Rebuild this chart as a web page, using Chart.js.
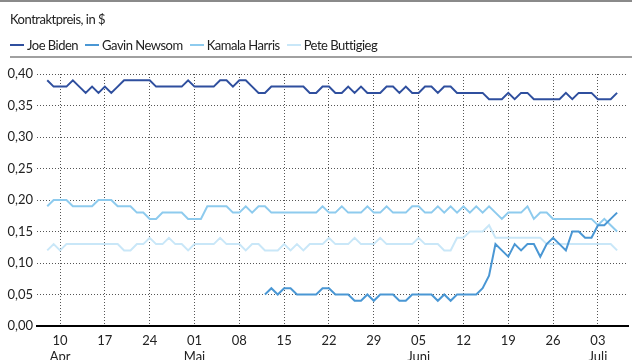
<!DOCTYPE html>
<html>
<head>
<meta charset="utf-8">
<script src="https://cdn.jsdelivr.net/npm/chart.js@4.4.1/dist/chart.umd.min.js"></script>
<style>
html, body { margin: 0; padding: 0; background: #fff; overflow: hidden; }
body { width: 640px; height: 360px; position: relative; font-family: Lato, "Liberation Sans", sans-serif; color: #222; }
#topRule { position: absolute; left: 0; top: 0; width: 632px; height: 2px; background: #8a8a8a; }
#title { position: absolute; left: 10px; top: 11px; font-size: 13px; letter-spacing: -0.5px; }
#legend { position: absolute; left: 10px; top: 37px; font-size: 13px; letter-spacing: -0.5px; display: flex; }
.item { display: flex; align-items: center; margin-right: 7px; }
.swatch { width: 14px; height: 2px; margin-right: 3px; }
#legendRule { position: absolute; left: 10px; top: 56px; width: 622px; height: 2px; background: #a0a0a0; }
#wrap { position: absolute; left: 0; top: 0; width: 640px; height: 372px; }
</style>
</head>
<body>
<div id="wrap"><canvas id="priceChart"></canvas></div>
<div id="topRule"></div>
<div id="title">Kontraktpreis, in $</div>
<div id="legend"></div>
<div id="legendRule"></div>
<script>
// daily values, 08 Apr to 06 Jul (index = day)
const seriesNames = ["Joe Biden", "Gavin Newsom", "Kamala Harris", "Pete Buttigieg"];
const seriesColors = ["#2f4f9e", "#4a97d4", "#8ecbee", "#c9e7f8"];

const biden = [
    0.39, 0.38, 0.38, 0.38, 0.39, 0.38, 0.37, 0.38, 0.37, 0.38,
    0.37, 0.38, 0.39, 0.39, 0.39, 0.39, 0.39, 0.38, 0.38, 0.38,
    0.38, 0.38, 0.39, 0.38, 0.38, 0.38, 0.38, 0.39, 0.39, 0.38,
    0.39, 0.39, 0.38, 0.37, 0.37, 0.38, 0.38, 0.38, 0.38, 0.38,
    0.38, 0.37, 0.37, 0.38, 0.38, 0.37, 0.37, 0.38, 0.37, 0.38,
    0.37, 0.37, 0.37, 0.38, 0.38, 0.37, 0.38, 0.37, 0.37, 0.38,
    0.38, 0.37, 0.38, 0.38, 0.37, 0.37, 0.37, 0.37, 0.37, 0.36,
    0.36, 0.36, 0.37, 0.36, 0.37, 0.37, 0.36, 0.36, 0.36, 0.36,
    0.36, 0.37, 0.36, 0.37, 0.37, 0.37, 0.36, 0.36, 0.36, 0.37,
];

const newsom = [
    null, null, null, null, null, null, null, null, null, null,
    null, null, null, null, null, null, null, null, null, null,
    null, null, null, null, null, null, null, null, null, null,
    null, null, null, null, 0.05, 0.06, 0.05, 0.06, 0.06, 0.05,
    0.05, 0.05, 0.05, 0.06, 0.06, 0.05, 0.05, 0.05, 0.04, 0.04,
    0.05, 0.04, 0.05, 0.05, 0.05, 0.04, 0.04, 0.05, 0.05, 0.05,
    0.05, 0.04, 0.05, 0.04, 0.05, 0.05, 0.05, 0.05, 0.06, 0.08,
    0.13, 0.12, 0.11, 0.13, 0.12, 0.13, 0.13, 0.11, 0.13, 0.14,
    0.13, 0.12, 0.15, 0.15, 0.14, 0.14, 0.16, 0.16, 0.17, 0.18,
];

const harris = [
    0.19, 0.20, 0.20, 0.20, 0.19, 0.19, 0.19, 0.19, 0.20, 0.20,
    0.20, 0.19, 0.19, 0.19, 0.18, 0.18, 0.17, 0.17, 0.18, 0.18,
    0.18, 0.18, 0.17, 0.17, 0.17, 0.19, 0.19, 0.19, 0.19, 0.18,
    0.18, 0.19, 0.18, 0.19, 0.19, 0.18, 0.18, 0.18, 0.18, 0.18,
    0.18, 0.18, 0.18, 0.19, 0.18, 0.18, 0.19, 0.18, 0.18, 0.18,
    0.19, 0.18, 0.18, 0.19, 0.18, 0.18, 0.18, 0.19, 0.19, 0.18,
    0.18, 0.19, 0.18, 0.19, 0.18, 0.19, 0.18, 0.19, 0.18, 0.19,
    0.18, 0.17, 0.18, 0.18, 0.18, 0.19, 0.17, 0.18, 0.18, 0.17,
    0.17, 0.17, 0.17, 0.17, 0.17, 0.17, 0.16, 0.17, 0.16, 0.15,
];

const buttigieg = [
    0.12, 0.13, 0.12, 0.13, 0.13, 0.13, 0.13, 0.13, 0.13, 0.13,
    0.13, 0.13, 0.12, 0.12, 0.13, 0.13, 0.14, 0.13, 0.13, 0.14,
    0.13, 0.13, 0.12, 0.13, 0.13, 0.13, 0.13, 0.14, 0.13, 0.13,
    0.13, 0.12, 0.13, 0.13, 0.12, 0.12, 0.12, 0.13, 0.12, 0.13,
    0.12, 0.13, 0.13, 0.13, 0.14, 0.13, 0.13, 0.13, 0.14, 0.13,
    0.13, 0.13, 0.14, 0.13, 0.13, 0.13, 0.13, 0.13, 0.14, 0.13,
    0.13, 0.13, 0.12, 0.12, 0.14, 0.14, 0.15, 0.15, 0.15, 0.16,
    0.14, 0.14, 0.14, 0.14, 0.14, 0.14, 0.14, 0.14, 0.13, 0.13,
    0.13, 0.13, 0.13, 0.13, 0.13, 0.13, 0.13, 0.13, 0.13, 0.12,
];

// weekly x ticks (day index), their labels and month names
const tickDays = [2, 9, 16, 23, 30, 37, 44, 51, 58, 65, 72, 79, 86];
const tickLabels = ["10", "17", "24", "01", "08", "15", "22", "29", "05", "12", "19", "26", "03"];
const tickMonths = ["Apr", "", "", "Mai", "", "", "", "", "Juni", "", "", "", "Juli"];

const fontFamily = 'Lato, "Liberation Sans", sans-serif';
const allSeries = [biden, newsom, harris, buttigieg];

// html legend
const legendEl = document.getElementById("legend");
seriesNames.forEach((name, i) => {
    const item = document.createElement("div");
    item.className = "item";
    item.innerHTML = '<span class="swatch" style="background:' + seriesColors[i] + '"></span>' + name;
    legendEl.appendChild(item);
});

const ctx = document.getElementById("priceChart").getContext("2d");
const priceChart = new Chart(ctx, {
    type: "line",
    data: {
        datasets: allSeries.map((arr, i) => ({
            label: seriesNames[i],
            data: arr.map((v, d) => ({ x: d, y: v })),
            borderColor: seriesColors[i],
            borderWidth: 2,
            pointRadius: 0,
            tension: 0,
            spanGaps: false,
        })),
    },
    options: {
        responsive: true,
        maintainAspectRatio: false,
        animation: false,
        layout: { padding: { top: 74, left: 6, right: 12, bottom: 0 } },
        plugins: { legend: { display: false }, tooltip: { enabled: false } },
        scales: {
            x: {
                type: "linear",
                min: -1.6,
                max: 90.7,
                afterBuildTicks: (scale) => {
                    scale.ticks = tickDays.map((v) => ({ value: v }));
                },
                afterFit: (scale) => {
                    scale.height = 46;
                },
                ticks: {
                    autoSkip: false,
                    maxRotation: 0,
                    padding: 7,
                    color: "#222",
                    font: { family: fontFamily, size: 13 },
                    callback: (v, i) => (tickMonths[i] ? [tickLabels[i], tickMonths[i]] : tickLabels[i]),
                },
                grid: { color: "#555", lineWidth: 1, drawTicks: false },
                border: { display: true, color: "#000", width: 2, dash: [1, 2] },
            },
            y: {
                min: 0,
                max: 0.4,
                afterFit: (scale) => {
                    scale.width = 31;
                },
                ticks: {
                    stepSize: 0.05,
                    padding: 4,
                    color: "#222",
                    font: { family: fontFamily, size: 13 },
                    callback: (v) => v.toFixed(2).replace(".", ","),
                },
                grid: { color: "#555", lineWidth: 1, drawTicks: false },
                border: { display: false, dash: [1, 2] },
            },
        },
    },
});
</script>
</body>
</html>
